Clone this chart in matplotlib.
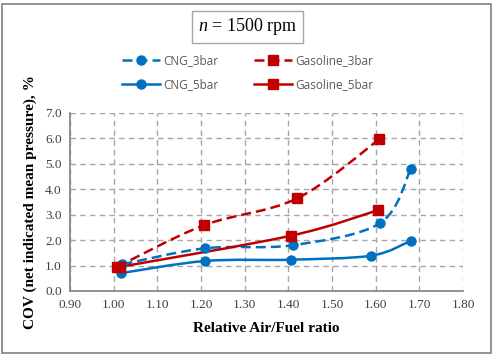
import matplotlib.pyplot as plt
import numpy as np
from matplotlib.path import Path
from matplotlib.patches import PathPatch, Rectangle
from matplotlib.lines import Line2D

plt.rcParams['mathtext.fontset'] = 'custom'
plt.rcParams['mathtext.it'] = 'Liberation Serif:italic'
plt.rcParams['mathtext.rm'] = 'Liberation Serif'

cng3_x = [1.02, 1.21, 1.41, 1.61, 1.68]
cng3_y = [1.05, 1.68, 1.80, 2.67, 4.78]
cng5_x = [1.016, 1.21, 1.405, 1.59, 1.68]
cng5_y = [0.70, 1.18, 1.23, 1.39, 1.97]
gas3_x = [1.008, 1.206, 1.42, 1.608]
gas3_y = [0.95, 2.58, 3.64, 5.96]
gas5_x = [1.015, 1.405, 1.606]
gas5_y = [0.95, 2.17, 3.18]

blue = '#0070C0'
red = '#C00000'
serif = 'Liberation Serif'
dash = (0, (4, 2))


def smooth_path(x, y):
    # Excel style smoothed line: cubic bezier segments (Catmull-Rom like)
    p = np.column_stack([x, y])
    n = len(p)
    verts = [p[0]]
    codes = [Path.MOVETO]
    for i in range(n - 1):
        p0 = p[i - 1] if i > 0 else p[i]
        p3 = p[i + 2] if i + 2 < n else p[i + 1]
        c1 = p[i] + (p[i + 1] - p0) / 6
        c2 = p[i + 1] - (p3 - p[i]) / 6
        verts += [c1, c2, p[i + 1]]
        codes += [Path.CURVE4] * 3
    return Path(verts, codes)


fig = plt.figure(figsize=(4.95, 3.54), dpi=100)
ax = fig.add_axes([0.1414, 0.178, 0.794, 0.503])

# order so that the 2-column legend reads row by row like the original
series = [
    (cng3_x, cng3_y, blue, 'o', dash, 'CNG_3bar'),
    (cng5_x, cng5_y, blue, 'o', '-', 'CNG_5bar'),
    (gas3_x, gas3_y, red, 's', dash, 'Gasoline_3bar'),
    (gas5_x, gas5_y, red, 's', '-', 'Gasoline_5bar'),
]
handles = []
for x, y, c, m, ls, lab in series:
    ax.add_patch(PathPatch(smooth_path(x, y), fill=False, edgecolor=c,
                           linestyle=ls, linewidth=1.8, zorder=3))
    ax.plot(x, y, linestyle='none', marker=m, color=c, markersize=6.5, zorder=4)
    handles.append(Line2D([], [], color=c, marker=m, linestyle=ls,
                          linewidth=1.8, markersize=6.5, label=lab))

ax.set_xlim(0.9, 1.8)
ax.set_ylim(0, 7)
ax.set_xticks(np.arange(0.9, 1.81, 0.1))
ax.set_yticks(np.arange(0, 7.1, 1.0))
ax.set_xticklabels(['%.2f' % v for v in np.arange(0.9, 1.81, 0.1)],
                   fontfamily=serif, fontsize=9.5, color='#404040')
ax.set_yticklabels(['%.1f' % v for v in np.arange(0, 7.1, 1.0)],
                   fontfamily=serif, fontsize=9.5, color='#404040')
ax.tick_params(length=0, pad=6)
ax.grid(True, linestyle=(0, (4, 3)), color='#A6A6A6', linewidth=1)
for s in ['top', 'right']:
    ax.spines[s].set_visible(False)
for s in ['left', 'bottom']:
    ax.spines[s].set_color('#808080')
    ax.spines[s].set_linewidth(1.2)
ax.set_xlabel('Relative Air/Fuel ratio', fontfamily=serif, fontweight='bold',
              fontsize=11, labelpad=8)
ax.set_ylabel('COV (net indicated mean pressure), %', fontfamily=serif,
              fontweight='bold', fontsize=11, labelpad=6)

fig.legend(handles=handles, ncol=2, loc='center', bbox_to_anchor=(0.5, 0.795),
           frameon=False, prop={'family': 'Open Sans', 'size': 8.5},
           labelcolor='#595959', handlelength=3.2, columnspacing=3.0,
           handletextpad=0.3, labelspacing=0.95)

fig.text(0.5, 0.924, r'$n$ = 1500 rpm', ha='center', va='center',
         fontfamily=serif, fontsize=13, color='black',
         bbox=dict(boxstyle='square,pad=0.3', fc='white', ec='#A6A6A6', lw=1))

fig.patches.append(Rectangle((0.004, 0.004), 0.988, 0.984, transform=fig.transFigure,
                             fill=False, edgecolor='#808080', linewidth=1.2))

fig.savefig('out.png', dpi=100)
